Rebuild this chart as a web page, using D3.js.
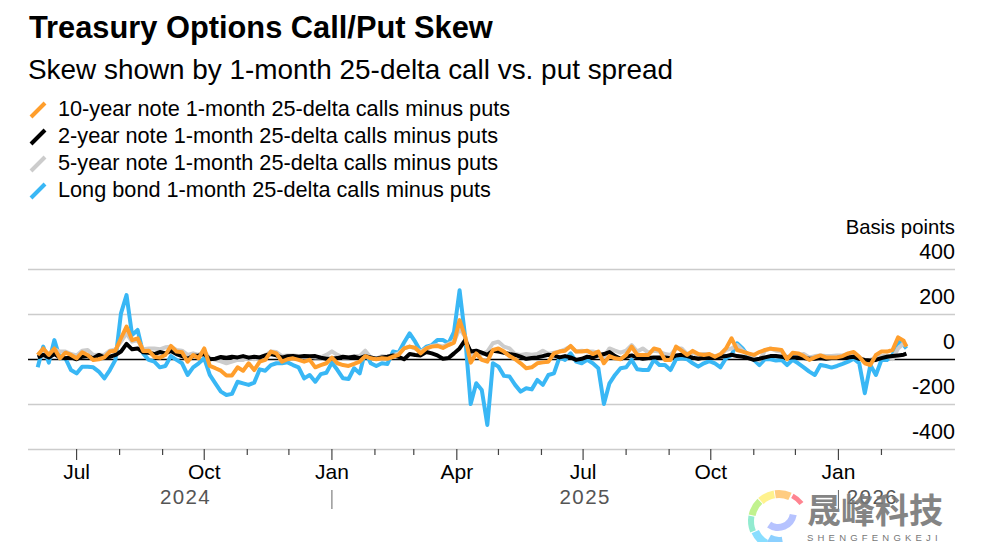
<!DOCTYPE html>
<html><head><meta charset="utf-8">
<script src="https://cdn.jsdelivr.net/npm/d3@7/dist/d3.min.js"></script>
<style>html,body{margin:0;padding:0;background:#fff}svg{display:block}text{font-family:"Liberation Sans",Arial,sans-serif}</style>
</head><body><svg id="c" width="998" height="542"></svg>
<script>
const title="Treasury Options Call/Put Skew";
const subtitle="Skew shown by 1-month 25-delta call vs. put spread";
const unitLabel="Basis points";
const seriesNames=["10-year note 1-month 25-delta calls minus puts","2-year note 1-month 25-delta calls minus puts","5-year note 1-month 25-delta calls minus puts","Long bond 1-month 25-delta calls minus puts"];
const seriesColors=["#ff9e2c","#000000","#cccccc","#39b7f5"];
const yTicks=[400,200,0,-200,-400];
const yearLabels=[["2024-09-17","2024"],["2025-07-02","2025"],["2026-01-25","2026"]];
const note10=[18,47,18,47,3,28,18,3,30,18,-4,-1,7,33,37,92,144,84,92,36,37,10,6,18,58,33,30,-12,18,3,47,-31,-41,-52,-73,-73,-37,-52,-19,-49,-12,-4,33,25,-12,-1,3,-4,-12,-4,-37,-27,-19,6,-19,
-27,-31,-22,-12,13,3,-1,3,1,10,18,47,55,50,25,47,55,58,49,62,73,173,99,-16,25,-4,-12,40,47,33,13,-1,-19,-41,-37,-19,-15,-12,25,33,37,58,33,33,37,22,33,-19,13,3,-1,18,55,18,18,18,47,40,
-4,-4,55,37,18,36,22,18,22,10,22,47,92,40,33,25,18,31,40,46,43,40,-1,28,25,13,-4,7,16,7,7,7,13,25,31,10,-19,-27,18,33,33,40,96,81,55];
const note2=[7,18,7,22,7,3,7,-1,10,13,3,18,7,10,18,33,67,43,47,30,28,22,31,25,36,22,13,1,13,16,22,-1,1,9,6,10,7,13,6,10,7,16,22,16,6,12,13,10,13,12,13,6,1,1,4,
10,7,10,4,13,7,1,7,10,16,10,-1,22,18,16,31,25,16,1,4,25,47,84,33,37,28,18,37,33,28,22,18,10,1,4,7,13,19,16,7,13,7,-4,1,10,7,16,22,31,13,1,10,16,7,1,4,7,7,
7,3,16,19,13,6,1,6,4,7,10,13,19,13,10,4,-4,1,7,13,13,10,6,7,7,4,1,1,4,1,4,4,7,7,10,1,-4,-7,-4,4,10,13,16,19,24];
const note5=[18,40,22,43,33,33,22,16,37,40,18,19,18,37,43,77,114,77,84,43,47,47,43,52,55,40,37,18,25,18,33,3,-4,-10,-19,-12,-4,-4,7,-1,7,16,33,31,13,16,16,13,7,10,7,7,18,34,18,
7,7,13,13,37,7,1,13,10,16,25,47,55,47,33,47,58,62,55,67,77,136,99,18,37,22,33,70,77,55,47,22,18,22,19,22,37,22,28,33,43,55,33,37,33,33,28,10,47,37,28,37,62,33,47,28,37,33,
22,18,47,47,22,28,16,22,19,13,16,40,47,62,37,22,7,-7,37,47,37,33,7,18,18,22,7,13,16,13,13,16,16,22,22,7,-7,-4,7,13,16,-1,47,70,58];
const longBond=[-37,55,-16,84,3,3,-49,-64,-34,-34,-37,-56,-86,-49,-4,203,284,107,129,25,-4,-12,-37,-31,13,-4,-19,-71,-37,-19,3,-71,-108,-145,-160,-155,-101,-108,-115,-105,-46,-52,-27,-19,-19,-15,-27,-37,-86,-71,-101,-67,-61,-16,-49,
-86,-89,-41,-64,33,-19,-31,-19,-22,33,28,73,114,77,33,55,62,84,84,70,121,306,99,-200,-108,-138,-293,-19,-34,-75,-78,-115,-145,-130,-135,-93,-115,-71,-64,7,-4,25,-12,-19,-4,-19,-41,-200,-108,-71,-41,-37,-4,-46,-49,-49,-4,-27,
-27,-49,-1,3,-1,-19,-34,-19,-9,-19,-37,3,18,70,47,13,-4,-27,-1,-1,-7,-4,-27,-4,-19,-37,-56,-71,-27,-31,-38,-31,-22,-12,1,-19,-152,-27,-71,-4,-4,18,77,62,47];
const dates=d3.timeDay.range(new Date(2024,5,3),new Date(2026,1,18),4).concat([new Date(2026,1,19)]);

const svg=d3.select("#c");
const x=d3.scaleTime().domain([new Date(2024,4,27),new Date(2026,2,26)]).range([28,955]);
const y=d3.scaleLinear().domain([-400,400]).range([449,269]);
const L=28,R=955;

svg.append("text").attr("x",29).attr("y",38).attr("font-size",30.8).attr("font-weight",700).text(title);
svg.append("text").attr("x",28).attr("y",79).attr("font-size",27.9).text(subtitle);
const lg=svg.append("g");
seriesNames.forEach((n,i)=>{
  const cy=109+i*27;
  lg.append("line").attr("x1",31).attr("y1",cy+8).attr("x2",45).attr("y2",cy-6).attr("stroke",seriesColors[i]).attr("stroke-width",4);
  lg.append("text").attr("x",58).attr("y",cy+7).attr("font-size",21.7).text(n);
});
svg.append("text").attr("x",R).attr("y",234).attr("text-anchor","end").attr("font-size",20.3).text(unitLabel);

yTicks.forEach(t=>{
  if(t!==-400) svg.append("line").attr("x1",L).attr("x2",R).attr("y1",y(t)+.5).attr("y2",y(t)+.5).attr("stroke",t===0?"#000":"#ccc").attr("stroke-width",t===0?1.3:1.5);
  svg.append("text").attr("x",R).attr("y",y(t)-10).attr("text-anchor","end").attr("font-size",21.5).text(String(t));
});
svg.append("line").attr("x1",L).attr("x2",R).attr("y1",449.5).attr("y2",449.5).attr("stroke","#ccc").attr("stroke-width",1.5);

const months=d3.timeMonth.range(new Date(2024,5,1),new Date(2026,2,1)).filter(d=>x(d)>=L+20);
months.forEach(d=>{
  const major=d.getMonth()%3===0;
  svg.append("line").attr("x1",x(d)).attr("x2",x(d)).attr("y1",449).attr("y2",major?460:455).attr("stroke","#444").attr("stroke-width",1.2);
  if(major) svg.append("text").attr("x",x(d)).attr("y",479).attr("text-anchor","middle").attr("font-size",21).text(d3.timeFormat("%b")(d));
});
yearLabels.forEach(([d,t])=>{
  svg.append("text").attr("x",x(new Date(d+"T12:00:00"))).attr("y",504).attr("text-anchor","middle").attr("font-size",20.5).attr("letter-spacing",1.4).attr("fill","#555").text(t);
});
[new Date(2025,0,1),new Date(2026,0,1)].forEach(d=>{
  svg.append("line").attr("x1",x(d)).attr("x2",x(d)).attr("y1",490).attr("y2",509).attr("stroke","#666").attr("stroke-width",1);
});

const line=d3.line().x((d,i)=>x(dates[i])).y(d=>y(d)).curve(d3.curveLinear);
[[longBond,3],[note5,2],[note2,1],[note10,0]].forEach(([v,c])=>{
  svg.append("path").datum(v).attr("d",line).attr("fill","none").attr("stroke",seriesColors[c]).attr("stroke-width",4).attr("stroke-linejoin","round");
});

// watermark
const wm=svg.append("g");
const rad=Math.PI/180;
const logoBands=[["#ff6f7d",28,52,26,31],["#ffc36b",-8,24,23,31],["#fff07a",-42,-10,23,31],["#b6f07a",-78,-44,24,31],["#7fe8c8",-112,-80,25,31],["#74d8ff",-150,-114,22,30],["#78c8ff",-190,-150,16,28]];
logoBands.forEach(([c,a0,a1,r0,r1])=>{
  wm.append("path").attr("d",d3.arc().innerRadius(r0).outerRadius(r1)({startAngle:a0*rad,endAngle:a1*rad}))
    .attr("transform","translate(779,521)").attr("fill",c).attr("opacity",.85);
});
wm.append("path").attr("d",d3.arc().innerRadius(12).outerRadius(19)({startAngle:100*rad,endAngle:215*rad}))
  .attr("transform","translate(778,512)").attr("fill","#a9b8ff").attr("opacity",.85);
wm.append("text").attr("x",807).attr("y",523).attr("font-size",34).attr("font-weight",700).attr("fill","#777").attr("opacity",.9).style("font-family","'Noto Sans CJK SC'").text("晟峰科技");
wm.append("text").attr("x",807).attr("y",541).attr("font-size",9.5).attr("letter-spacing",4.2).attr("fill","#777").text("SHENGFENGKEJI");
</script></body></html>
